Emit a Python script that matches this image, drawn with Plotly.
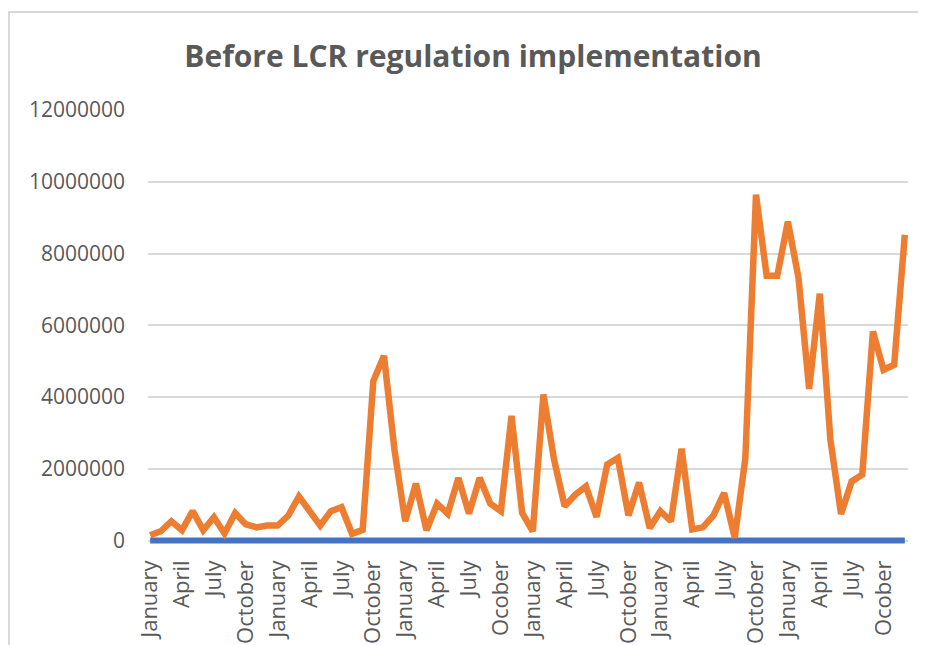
import plotly.graph_objects as go

# month labels (72 months, the source sheet misspells two Octobers)
month_names = ["January", "February", "March", "April", "May", "June",
               "July", "August", "September", "October", "November", "December"]
years = 6
ocober_years = [2, 5]  # zero-based years where the label reads "Ocober"

month_labels = []
for y in range(years):
    for m in month_names:
        if m == "October" and y in ocober_years:
            month_labels.append("Ocober")
        else:
            month_labels.append(m)

# series
series_blue = [0] * 72
series_orange = [
    150000, 260000, 540000, 290000, 820000, 290000, 650000, 200000, 770000, 450000, 370000, 420000,
    420000, 700000, 1230000, 790000, 420000, 820000, 930000, 190000, 300000, 4450000, 5150000, 2500000,
    540000, 1590000, 290000, 1030000, 750000, 1750000, 750000, 1750000, 1030000, 820000, 3480000, 770000,
    260000, 4070000, 2260000, 960000, 1280000, 1510000, 660000, 2120000, 2300000, 700000, 1620000, 350000,
    820000, 540000, 2560000, 310000, 370000, 700000, 1330000, 80000, 2300000, 9640000, 7380000, 7380000,
    8890000, 7320000, 4230000, 6880000, 2810000, 740000, 1650000, 1840000, 5830000, 4760000, 4900000, 8520000,
]
y_ticks = [0, 2000000, 4000000, 6000000, 8000000, 10000000, 12000000]

x_idx = list(range(len(month_labels)))
tick_idx = x_idx[::3]
tick_text = [month_labels[i] for i in tick_idx]

FONT = "Open Sans"
GREY = "#595959"

# page body adds an 8px offset, so the figure is laid out 8px up/left
# y range dips a little below zero so the zero line is not clipped
Y_LO = -150000
L, T, PW = 140, 102, 760
PH = round(431 * (12000000 - Y_LO) / 12000000)
W, H = 926, 645

fig = go.Figure()

fig.add_trace(
    go.Scatter(
        x=x_idx,
        y=series_blue,
        mode="lines",
        line=dict(color="#4472C4", width=6),
        showlegend=False,
    )
)
fig.add_trace(
    go.Scatter(
        x=x_idx,
        y=series_orange,
        mode="lines",
        line=dict(color="#ED7D31", width=6.5),
        showlegend=False,
    )
)

fig.update_layout(
    width=W,
    height=H,
    margin=dict(l=L, r=W - L - PW, t=T, b=H - T - PH),
    plot_bgcolor="white",
    paper_bgcolor="white",
    font=dict(family=FONT, color=GREY),
    title=dict(
        text="<b>Before LCR regulation implementation</b>",
        x=(473 - 8 - L) / PW,
        xref="paper",
        xanchor="center",
        y=1 - 48 / H,
        yanchor="middle",
        font=dict(family=FONT, size=30, color=GREY),
    ),
    shapes=[
        dict(
            type="rect",
            xref="paper", yref="paper",
            x0=(1 - L) / PW, x1=1.1,
            y0=-0.4, y1=(T + PH - 4) / PH,
            line=dict(color="#D9D9D9", width=2),
            layer="below",
        )
    ],
)

fig.update_xaxes(
    range=[-0.2, 71.3],
    tickmode="array",
    tickvals=tick_idx,
    ticktext=tick_text,
    tickangle=-90,
    tickfont=dict(size=22, color=GREY),
    showgrid=False,
    showline=False,
    zeroline=False,
    ticks="",
    ticklabelstandoff=9,
    automargin=False,
)

fig.update_yaxes(
    range=[Y_LO, 12000000],
    tickmode="array",
    tickvals=y_ticks,
    ticktext=[str(v) for v in y_ticks],
    tickfont=dict(size=21, color=GREY),
    showgrid=True,
    gridcolor="#D9D9D9",
    gridwidth=1.5,
    zeroline=False,
    ticks="",
    ticklabelstandoff=22,
    automargin=False,
)

fig.write_html("out.html")
